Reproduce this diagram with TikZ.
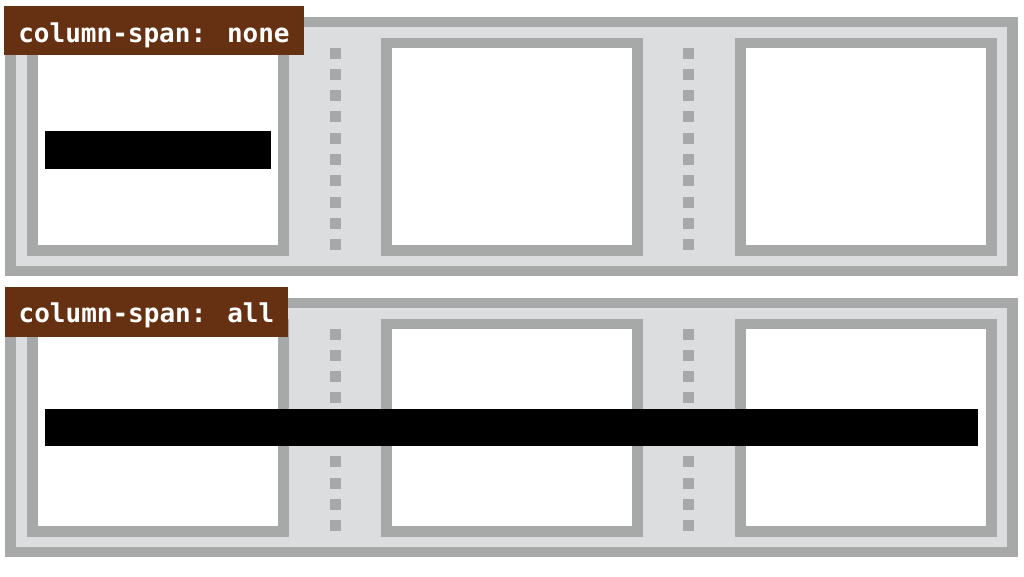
\documentclass[tikz,border=0pt]{standalone}
\usepackage{fontspec}
\newfontfamily\labelmono{DejaVu Sans Mono}[Scale=1.0]
\definecolor{framegray}{RGB}{166,169,167}
\definecolor{panelgray}{RGB}{220,221,223}
\definecolor{labelbrown}{RGB}{102,49,18}
\tikzset{
  lbl/.style={fill=labelbrown, text=white, inner sep=0pt, font=\labelmono\bfseries\fontsize{26}{30}\selectfont, anchor=center},
  sq/.style={fill=framegray},
}
\begin{document}
\begin{tikzpicture}[x=1pt,y=-1pt]
\useasboundingbox (0,0) rectangle (1024,576);
% containers
\foreach \top/\cy in {17/38, 298/319}{
  \fill[framegray] (5,\top) rectangle (1018,\top+259);
  \fill[panelgray] (16,\top+10) rectangle (1007,\top+249);
  \foreach \cx in {27,381,735}{
    \fill[framegray] (\cx,\cy) rectangle (\cx+262,\cy+218);
    \fill[white] (\cx+11,\cy+10) rectangle (\cx+251,\cy+207);
  }
  \foreach \k in {0,...,9}{
    \fill[sq] (329.5,\top+30.5+\k*21.3) rectangle (340.5,\top+41.5+\k*21.3);
    \fill[sq] (683,\top+30.5+\k*21.3) rectangle (694,\top+41.5+\k*21.3);
  }
}
% spanning bars
\fill[black] (45,131) rectangle (271,169);
\fill[black] (45,409) rectangle (978,446);
% labels
\node[lbl, minimum width=300pt, text height=36pt, text depth=13pt] (labnone) at (154,30.5) {column-span: none};
\node[lbl, minimum width=283pt, text height=35pt, text depth=15pt] (laball) at (146.5,312) {column-span: all};
\end{tikzpicture}
\end{document}
